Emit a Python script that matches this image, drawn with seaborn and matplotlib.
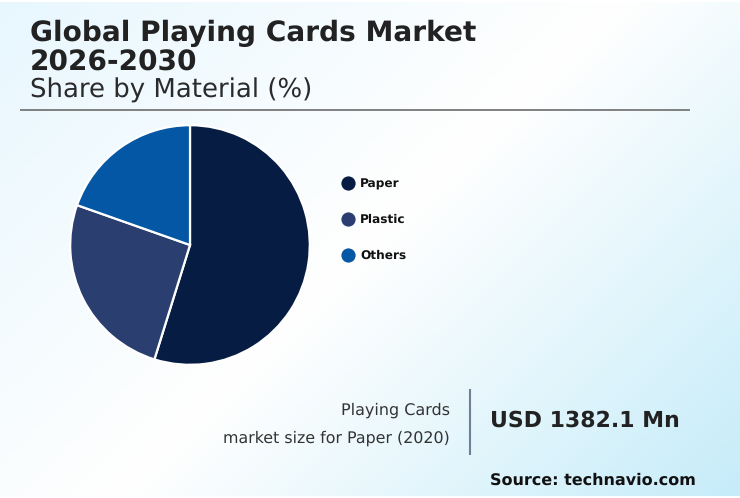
import numpy as np
import matplotlib
matplotlib.use("Agg")
import matplotlib.pyplot as plt
from matplotlib.colors import LinearSegmentedColormap
import seaborn as sns

categories = ["Paper", "Plastic", "Others"]
shares = [54.8, 25.6, 19.6]
colors = ["#061c42", "#2a3f70", "#0357a5"]

title_line1 = "Global Playing Cards Market"
title_line2 = "2026-2030"
subtitle = "Share by Material (%)"
caption1 = "Playing Cards"
caption2 = "market size for Paper (2020)"
value_text = "USD 1382.1 Mn"
source = "Source: technavio.com"

sns.set_theme(style="white")
plt.rcParams["font.family"] = ["DejaVu Sans"]
plt.rcParams["text.hinting"] = "none"

W, H = 740, 498
fig = plt.figure(figsize=(W / 100, H / 100), dpi=100)

bg = fig.add_axes([0, 0, 1, 1])
yy, xx = np.mgrid[0:1:250j, 0:1:370j]
t = (xx * W + yy * H) / (W + H)
cmap = LinearSegmentedColormap.from_list(
    "bg", [(0, "#e8f7fe"), (0.5, "#ffffff"), (1, "#c6ecf9")])
bg.imshow(t, cmap=cmap, vmin=0, vmax=1, extent=[0, W, H - 2, 2], aspect="auto", interpolation="bilinear")
bg.set_xlim(0, W)
bg.set_ylim(H, 0)
bg.axis("off")

def T(x, y, s, **kw):
    bg.text(x, y, s, va="baseline", **kw)

T(30, 41, title_line1, fontsize=20.2, fontweight="bold", color="#222222")
T(30, 71, title_line2, fontsize=20.2, fontweight="bold", color="#222222")
T(30, 98, subtitle, fontsize=18.7, color="#2b2b2b")
bg.plot([20, 690], [110, 110], color="#808080", lw=1.4, solid_capstyle="butt")
T(450, 415, caption1, fontsize=11.5, color="#333333", ha="right")
T(450, 443, caption2, fontsize=11.45, color="#333333", ha="right")
bg.plot([470, 470], [389, 455], color="#6f7f95", lw=1.5, solid_capstyle="butt")
T(490, 427, value_text, fontsize=15.8, fontweight="bold", color="#222222")
T(490, 485, source, fontsize=11.5, fontweight="bold", color="#111111")

R = 119.8
ax = fig.add_axes([(190 - R) / W, 1 - (245 + R) / H, 2 * R / W, 2 * R / H])
wedges, _ = ax.pie(shares, colors=colors, startangle=90, counterclock=False, radius=1,
                   wedgeprops=dict(edgecolor="white", linewidth=1.6))
ax.set_xlim(-1, 1)
ax.set_ylim(-1, 1)

for (name, col, y) in zip(categories, colors, [183, 219, 255]):
    bg.scatter([348], [y], s=105, color=col, linewidths=0, zorder=3)
    bg.text(360, y + 1, name, fontsize=8.7, fontweight="bold", color="#111111", va="center")

fig.savefig("out.png", dpi=100)
